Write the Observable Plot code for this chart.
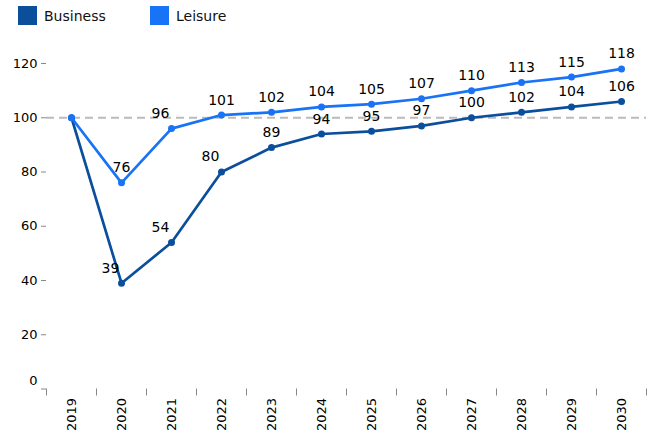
<!DOCTYPE html>
<html>
<head>
<meta charset="utf-8">
<script src="https://cdn.jsdelivr.net/npm/d3@7"></script>
<script src="https://cdn.jsdelivr.net/npm/@observablehq/plot@0.6"></script>
<style>
  body { margin: 0; background: #fff; font-family: "DejaVu Sans", sans-serif; }
  #wrap { position: relative; width: 650px; height: 438px; }
  #legend { position: absolute; left: 18px; top: 6px; display: flex; gap: 0; font-size: 14px; color: #111; }
  .item { display: flex; align-items: center; width: 132px; }
  .sw { width: 19px; height: 19px; margin-right: 7px; }
</style>
</head>
<body>
<div id="wrap"><div id="legend"></div></div>
<script>
const years = [2019, 2020, 2021, 2022, 2023, 2024, 2025, 2026, 2027, 2028, 2029, 2030];
const business = [100, 39, 54, 80, 89, 94, 95, 97, 100, 102, 104, 106];
const leisure = [100, 76, 96, 101, 102, 104, 105, 107, 110, 113, 115, 118];
const seriesNames = ["Business", "Leisure"];
const seriesColors = ["#0b4f9c", "#1873f6"];
const yTicks = [0, 20, 40, 60, 80, 100, 120];
const baseline = 100;

const data = [];
years.forEach((yr, i) => {
  data.push({year: yr, value: business[i], series: "Business", i, prev: business[i - 1], next: business[i + 1]});
  data.push({year: yr, value: leisure[i], series: "Leisure", i, prev: leisure[i - 1], next: leisure[i + 1]});
});
const shifted = d => (d.next !== undefined && d.next - d.value > 10 && d.value < 60) || (d.prev !== undefined && d.value - d.prev > 10);
const labeled = data.filter(d => d.i > 0);

const chart = Plot.plot({
  width: 650,
  height: 438,
  marginLeft: 46,
  marginRight: 4,
  marginTop: 63,
  marginBottom: 49.5,
  style: {fontFamily: "DejaVu Sans, sans-serif", fontSize: "13px", color: "#000", background: "transparent"},
  x: {domain: [years[0] - 0.5, years[years.length - 1] + 0.5], axis: null},
  y: {domain: [0, 120], axis: null},
  color: {domain: seriesNames, range: seriesColors},
  marks: [
    Plot.ruleY([baseline], {stroke: "#bbb", strokeWidth: 2, strokeDasharray: "8,5"}),
    Plot.axisY(yTicks, {label: null, tickSize: 5, tickPadding: 4, stroke: "#888", fill: "#000", fontSize: 13, tickFormat: d => d === 0 ? "" : d}),
    Plot.text([0], {y: d => d, frameAnchor: "left", text: d => String(d), dx: -9, dy: -8, textAnchor: "end", fontSize: 13, fill: "#000"}),
    Plot.axisX(years.map(y => y - 0.5).concat([years[years.length - 1] + 0.5]), {label: null, tickSize: 7, stroke: "#888", tickFormat: () => ""}),
    Plot.axisX(years, {label: null, tickSize: 0, tickRotate: -90, tickPadding: 9, fontSize: 13, fill: "#000", tickFormat: d => String(d)}),
    Plot.line(data, {x: "year", y: "value", stroke: "series", z: "series", strokeWidth: 2.7}),
    Plot.dot(data, {x: "year", y: "value", fill: "series", r: 3.5}),
    Plot.text(labeled.filter(d => !shifted(d)), {x: "year", y: "value", text: d => String(d.value), dy: -15, fontSize: 14, fill: "#000"}),
    Plot.text(labeled.filter(shifted), {x: "year", y: "value", text: d => String(d.value), dy: -15, dx: -11, fontSize: 14, fill: "#000"})
  ]
});
document.getElementById("wrap").prepend(chart);

const legend = document.getElementById("legend");
seriesNames.forEach((name, k) => {
  const it = document.createElement("div");
  it.className = "item";
  it.innerHTML = `<span class="sw" style="background:${seriesColors[k]}"></span><span>${name}</span>`;
  legend.appendChild(it);
});
</script>
</body>
</html>
